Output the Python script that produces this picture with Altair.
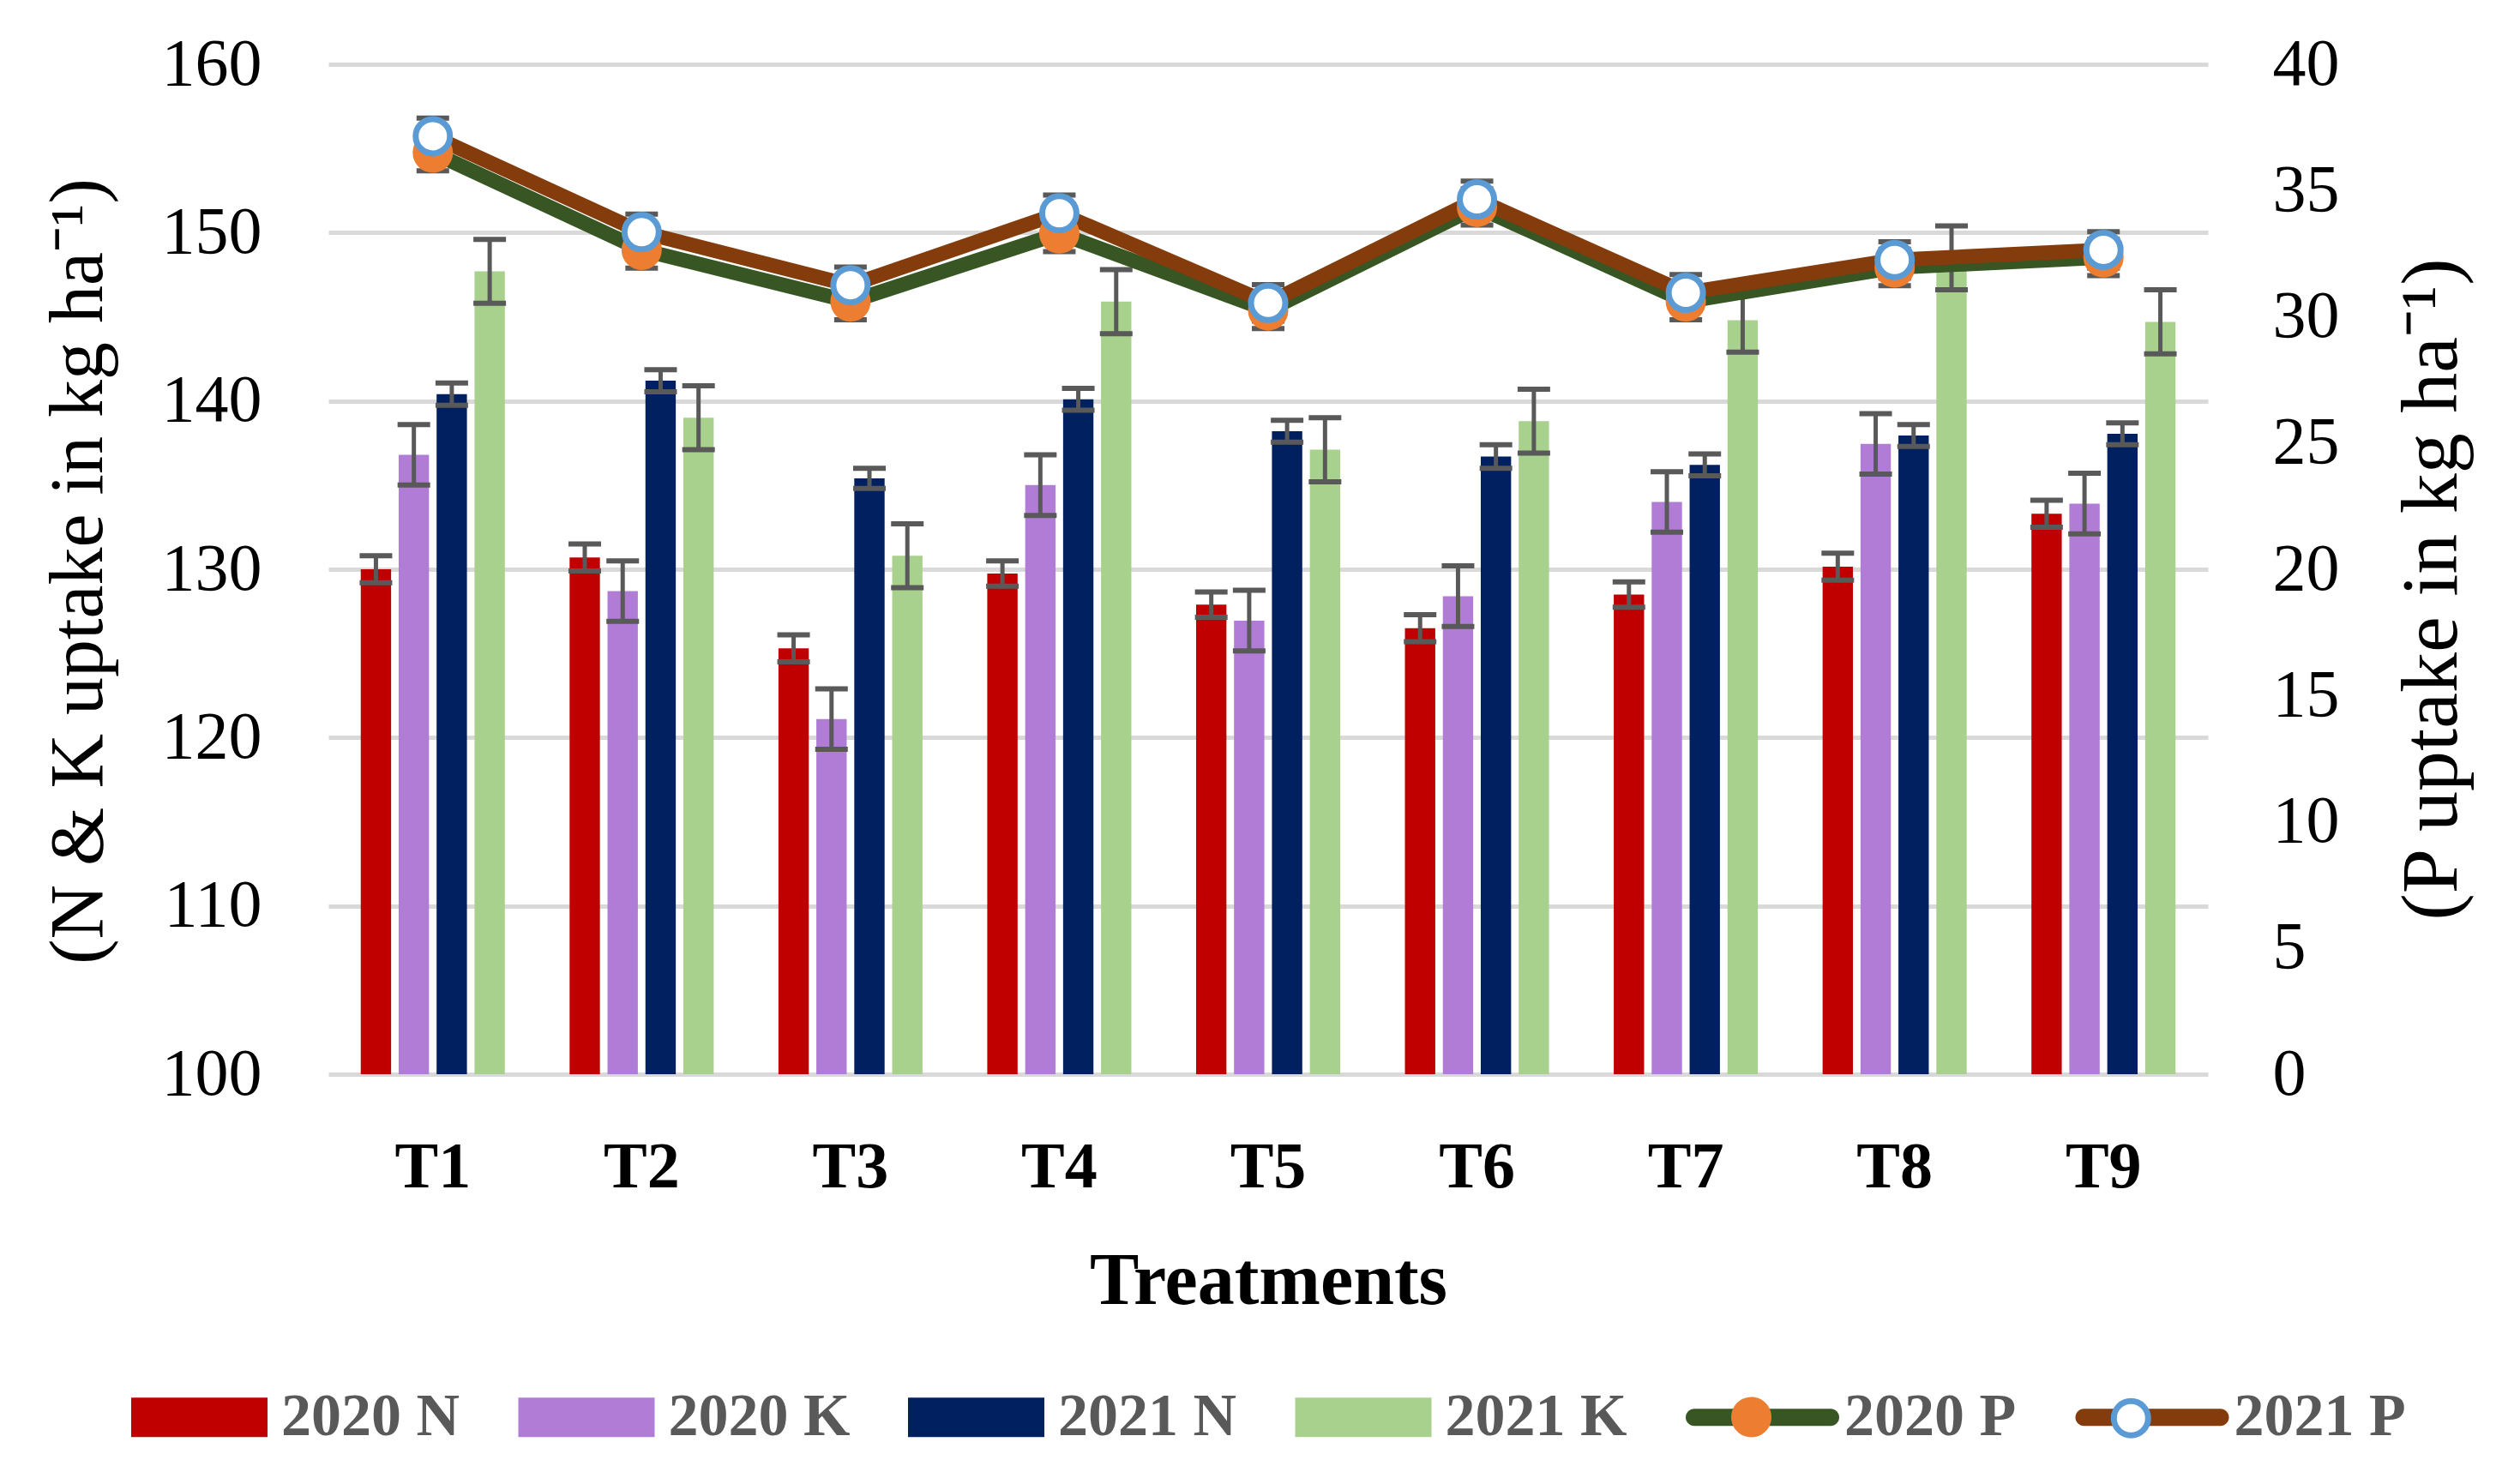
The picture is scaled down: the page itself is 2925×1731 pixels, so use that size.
import altair as alt
import pandas as pd

FONT = "Liberation Serif"

treatments = ["T1", "T2", "T3", "T4", "T5", "T6", "T7", "T8", "T9"]

n2020 = [130.0, 130.7, 125.3, 129.75, 127.9, 126.5, 128.5, 130.15, 133.3]
n2020_err = [0.8, 0.8, 0.8, 0.75, 0.75, 0.8, 0.75, 0.8, 0.8]
k2020 = [136.8, 128.7, 121.1, 135.0, 126.95, 128.4, 134.0, 137.45, 133.9]
k2020_err = [1.8, 1.8, 1.8, 1.8, 1.8, 1.8, 1.8, 1.8, 1.8]
n2021 = [140.4, 141.2, 135.4, 140.1, 138.2, 136.7, 136.2, 137.95, 138.05]
n2021_err = [0.66, 0.66, 0.6, 0.65, 0.65, 0.7, 0.65, 0.65, 0.65]
k2021 = [147.7, 139.0, 130.8, 145.9, 137.1, 138.8, 144.8, 148.5, 144.7]
k2021_err = [1.9, 1.9, 1.9, 1.9, 1.9, 1.9, 1.9, 1.9, 1.9]

p2020 = [36.5, 32.65, 30.6, 33.3, 30.25, 34.35, 30.6, 31.95, 32.35]
p2021 = [37.15, 33.35, 31.25, 34.1, 30.55, 34.65, 30.95, 32.25, 32.65]
p_err = [0.72, 0.72, 0.72, 0.72, 0.72, 0.72, 0.72, 0.72, 0.72]

bar_series = ["2020 N", "2020 K", "2021 N", "2021 K"]
line_series = ["2020 P", "2021 P"]
all_series = bar_series + line_series

bar_colors = ["#C00000", "#B07CD6", "#002060", "#A9D18E"]
line_colors = ["#375623", "#843C0C"]
marker_fill = ["#ED7D31", "#FFFFFF"]
marker_stroke = "#5B9BD5"
err_color = "#595959"
grid_color = "#D9D9D9"

rows = []
for s, vals, errs in zip(bar_series, [n2020, k2020, n2021, k2021],
                         [n2020_err, k2020_err, n2021_err, k2021_err]):
    for t, v, e in zip(treatments, vals, errs):
        rows.append({"treatment": t, "series": s, "value": v, "lo": v - e, "hi": v + e})
bars_df = pd.DataFrame(rows)

prows = []
for s, vals in zip(line_series, [p2020, p2021]):
    for t, v, e in zip(treatments, vals, p_err):
        prows.append({"treatment": t, "series": s, "value": v, "lo": v - e, "hi": v + e})
p_df = pd.DataFrame(prows)

x_enc = alt.X(
    "treatment:N", sort=treatments,
    scale=alt.Scale(paddingInner=0.31, paddingOuter=0.155),
    axis=alt.Axis(title="Treatments", labelAngle=0, labelFontSize=76, labelFontWeight="bold",
                  labelColor="black", labelPadding=71, ticks=False, tickSize=0, domain=False,
                  titleFontSize=86, titleFontWeight="bold", titleColor="black",
                  titleY=199, titleBaseline="top"),
)
xo_enc = alt.XOffset("series:N", sort=bar_series, scale=alt.Scale(paddingInner=0.2, paddingOuter=0))

yl_scale = alt.Scale(domain=[100, 160], nice=False, zero=False)
yl_axis = alt.Axis(
    title="(N & K uptake in kg ha\u207b\u00b9)", values=list(range(100, 161, 10)),
    labelFontSize=78, labelPadding=78, labelColor="black", ticks=False, tickSize=0, domain=False,
    grid=True, gridColor=grid_color, gridWidth=5,
    titleFontSize=88, titleFontWeight="normal", titleColor="black",
    titleX=-291, titleY=591, titleBaseline="middle", titleAlign="center", titleAngle=270,
)
yr_scale = alt.Scale(domain=[0, 40], nice=False, zero=True)
yr_axis = alt.Axis(
    title="(P uptake in kg ha\u207b\u00b9)", orient="right", values=list(range(0, 41, 5)),
    labelFontSize=78, labelPadding=75, labelColor="black", ticks=False, tickSize=0, domain=False,
    grid=False, titleFontSize=94, titleFontWeight="normal", titleColor="black",
    titleX=261, titleY=612, titleBaseline="middle", titleAlign="center", titleAngle=270,
)

# legend A: swatches and line segments
rect_path = "M-1,-0.289H1V0.289H-1Z"
line_path = ("M-1.0,-0.126H1.0A0.126,0.126,0,0,1,1.0,0.126H-1.0"
             "A0.126,0.126,0,0,1,-1.0,-0.126Z")
legA = alt.Legend(
    title=None, orient="none", legendX=-230, legendY=1498.5, direction="horizontal",
    symbolSize=25281, symbolStrokeWidth=0,
    symbolType={"expr": "indexof(['2020 P','2021 P'], datum.value) >= 0 ? '%s' : '%s'" % (line_path, rect_path)},
    labelFont=FONT, labelFontSize=70, labelFontWeight="bold", labelColor="#595959",
    labelLimit=2000, labelOffset=16, columnPadding=67.5, padding=0,
)


def circ(r):
    return "M{r},0A{r},{r},0,1,1,-{r},0A{r},{r},0,1,1,{r},0Z".format(r=r)


# legend C: the markers drawn over the two line entries of legend A
legC = alt.Legend(
    title=None, orient="none", legendX=1580, legendY=1498.5, direction="horizontal",
    symbolSize=23104, symbolStrokeWidth=7,
    symbolType={"expr": "datum.value == '2021 P' ? '%s' : '%s'" % (circ(0.263), circ(0.309))},
    symbolStrokeColor={"expr": "datum.value == '2021 P' ? '%s' : 'transparent'" % marker_stroke},
    labelExpr="''", labelFontSize=70, labelOffset=0, columnPadding=283.8, padding=0,
)

color_enc = alt.Color("series:N", scale=alt.Scale(domain=all_series, range=bar_colors + line_colors), legend=legA)

bars = alt.Chart(bars_df).mark_bar().encode(
    x=x_enc, xOffset=xo_enc,
    y=alt.Y("value:Q", scale=yl_scale, axis=yl_axis),
    y2=alt.Y2Datum(100),
    color=color_enc,
)
err_rule = alt.Chart(bars_df).mark_rule(color=err_color, strokeWidth=5).encode(
    x=x_enc, xOffset=xo_enc,
    y=alt.Y("lo:Q", scale=yl_scale, axis=yl_axis), y2="hi:Q",
)
cap_lo = alt.Chart(bars_df).mark_tick(color=err_color, thickness=6, size=38, opacity=1, orient="horizontal").encode(
    x=x_enc, xOffset=xo_enc, y=alt.Y("lo:Q", scale=yl_scale, axis=yl_axis),
)
cap_hi = alt.Chart(bars_df).mark_tick(color=err_color, thickness=6, size=38, opacity=1, orient="horizontal").encode(
    x=x_enc, xOffset=xo_enc, y=alt.Y("hi:Q", scale=yl_scale, axis=yl_axis),
)

yr_val = alt.Y("value:Q", scale=yr_scale, axis=yr_axis)
line20 = alt.Chart(p_df).transform_filter(alt.datum.series == "2020 P").mark_line(
    color=line_colors[0], strokeWidth=17, strokeJoin="round", strokeCap="round").encode(x=x_enc, y=yr_val)
line21 = alt.Chart(p_df).transform_filter(alt.datum.series == "2021 P").mark_line(
    color=line_colors[1], strokeWidth=17, strokeJoin="round", strokeCap="round").encode(x=x_enc, y=yr_val)
perr_rule = alt.Chart(p_df).mark_rule(color=err_color, strokeWidth=5).encode(
    x=x_enc, y=alt.Y("lo:Q", scale=yr_scale, axis=yr_axis), y2="hi:Q")
pcap_lo = alt.Chart(p_df).mark_tick(color=err_color, thickness=6, size=38, opacity=1, orient="horizontal").encode(
    x=x_enc, y=alt.Y("lo:Q", scale=yr_scale, axis=yr_axis))
pcap_hi = alt.Chart(p_df).mark_tick(color=err_color, thickness=6, size=38, opacity=1, orient="horizontal").encode(
    x=x_enc, y=alt.Y("hi:Q", scale=yr_scale, axis=yr_axis))
points = alt.Chart(p_df).mark_point(filled=True, opacity=1, strokeWidth=7).encode(
    x=x_enc, y=yr_val,
    fill=alt.Fill("series:N", scale=alt.Scale(domain=line_series, range=marker_fill), legend=legC),
    stroke=alt.condition("datum.series == '2021 P'", alt.value(marker_stroke), alt.value("transparent")),
    size=alt.condition("datum.series == '2021 P'", alt.value(1600), alt.value(2209)),
)

left = alt.layer(bars, err_rule, cap_lo, cap_hi)
right = alt.layer(line20, line21, perr_rule, pcap_lo, pcap_hi, points)

chart = alt.layer(left, right).resolve_scale(y="independent").properties(
    width=2192, height=1178,
    autosize=alt.AutoSizeParams(type="none"),
    padding={"left": 375, "top": 67, "right": 335, "bottom": 460},
).configure(font=FONT).configure_view(stroke=None).configure_axis(labelFont=FONT, titleFont=FONT)

chart.save("out.html", embed_options={"renderer": "svg", "actions": False})
